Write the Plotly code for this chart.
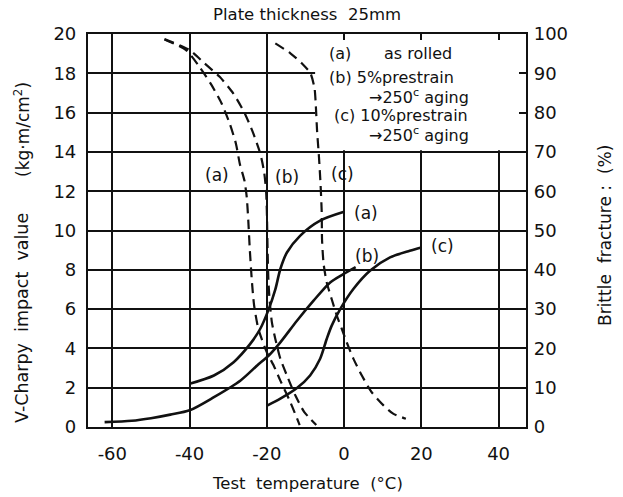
import plotly.graph_objects as go

# ---------------- data ----------------
# V-Charpy impact value (kg·m/cm²), left axis
temp_imp_a = [-40, -33.7, -28.6, -24.3, -21.7, -19.5, -17.8, -16.5, -14.8, -11.4, -6.2, 0]
imp_a = [2.2, 2.62, 3.3, 4.23, 5.0, 6.0, 7.0, 8.04, 8.88, 9.73, 10.5, 10.95]

temp_imp_b = [-62, -55, -50, -45, -40, -33.7, -26.8, -22.5, -19.5, -16.5, -12.2, -7.9, -3.6, -0.2, 3.0]
imp_b = [0.25, 0.32, 0.45, 0.63, 0.85, 1.52, 2.37, 3.13, 3.64, 4.31, 5.41, 6.43, 7.36, 7.78, 8.14]

temp_imp_c = [-19.8, -16.5, -12.2, -8.8, -6.2, -4.5, -3.2, -1.0, 2.4, 6.7, 11.9, 17.0, 20.0]
imp_c = [1.1, 1.44, 1.98, 2.62, 3.47, 4.48, 5.16, 6.0, 7.02, 7.95, 8.63, 8.97, 9.14]

# Brittle fracture (%), right axis
temp_br_a = [-46.5, -40.9, -37.4, -34.3, -31.7, -29.6, -28.0, -27.0, -25.8, -25.2,
             -24.8, -24.4, -23.9, -23.3, -22.2, -20.0, -18.2, -16.5, -13.9, -11.5]
br_a = [98.6, 95.9, 91.6, 87.0, 82.3, 77.2, 72.1, 67.0, 62.7, 58.5,
        52.5, 45.0, 37.5, 31.0, 25.0, 19.0, 15.6, 11.8, 6.3, 0.5]

temp_br_b = [-46.5, -40.0, -36.1, -32.2, -28.7, -25.7, -23.5, -21.7, -20.7, -20.2, -20.0,
             -19.8, -19.6, -19.3, -18.7, -17.8, -16.5, -14.8, -12.6, -10.3, -7.2]
br_b = [98.7, 95.9, 92.5, 89.1, 84.9, 79.8, 74.7, 69.6, 64.9, 60.2, 55.1,
        45.0, 37.5, 32.5, 26.7, 22.4, 17.4, 13.1, 8.0, 3.8, 0.5]

temp_br_c = [-17.8, -13.9, -10.9, -8.7, -7.65, -7.3, -7.0, -6.5, -6.1, -5.8, -5.7, -5.3,
             -4.5, -3.2, -1.9, -0.6, 0.7, 2.4, 4.6, 7.1, 10.2, 12.7, 16.0]
br_c = [97.6, 95.1, 92.5, 90.0, 86.2, 81.5, 75.5, 68.7, 61.9, 55.0, 47.5, 41.5,
        36.8, 32.5, 28.4, 25.0, 21.5, 17.4, 13.1, 8.9, 5.5, 3.4, 2.1]

x_ticks = [-60, -40, -20, 0, 20, 40]
y_ticks = [0, 2, 4, 6, 8, 10, 12, 14, 16, 18, 20]
y2_ticks = [0, 10, 20, 30, 40, 50, 60, 70, 80, 90, 100]

legend_lines = ["(a)", "as rolled", "(b) 5%prestrain", "→250<sup>c</sup> aging",
                "(c) 10%prestrain", "→250<sup>c</sup> aging"]

FONT = "DejaVu Sans"
INK = "#111111"

fig = go.Figure()

solid = dict(color=INK, width=2.6)
dashed = dict(color=INK, width=2.2, dash="10px,6px")

for xs, ys in [(temp_imp_a, imp_a), (temp_imp_b, imp_b), (temp_imp_c, imp_c)]:
    fig.add_trace(go.Scatter(x=xs, y=ys, mode="lines", line=dict(**solid, shape="spline", smoothing=0.8),
                             showlegend=False, hoverinfo="skip"))
for xs, ys in [(temp_br_a, br_a), (temp_br_b, br_b), (temp_br_c, br_c)]:
    fig.add_trace(go.Scatter(x=xs, y=ys, yaxis="y2", mode="lines",
                             line=dict(**dashed, shape="spline", smoothing=0.6),
                             showlegend=False, hoverinfo="skip"))

# white block where the legend text sits (grid interrupted)
fig.add_shape(type="rect", xref="x", yref="y", x0=-7.5, x1=47.1, y0=14.08, y1=20,
              fillcolor="white", line=dict(width=0), layer="between")

ann = []
def txt(x, y, s, size=17, xanchor="center"):
    ann.append(dict(x=x, y=y, xref="x", yref="y", text=s, showarrow=False,
                    xanchor=xanchor, yanchor="middle", font=dict(family=FONT, size=size, color=INK)))

# curve labels
txt(-32.8, 12.85, "(a)")
txt(-14.8, 12.7, "(b)")
txt(-0.5, 12.9, "(c)")
txt(5.6, 10.9, "(a)")
txt(5.9, 8.7, "(b)")
txt(25.5, 9.2, "(c)")

# legend block
txt(-4.4, 19.02, legend_lines[0], size=16, xanchor="left")
txt(9.8, 19.02, legend_lines[1], size=16, xanchor="left")
txt(-4.5, 17.77, legend_lines[2], size=16, xanchor="left")
txt(5.9, 16.80, legend_lines[3], size=16, xanchor="left")
txt(-3.2, 15.85, legend_lines[4], size=16, xanchor="left")
txt(5.9, 14.89, legend_lines[5], size=16, xanchor="left")

# titles
ann.append(dict(x=0.5, y=1, xref="paper", yref="paper", yanchor="bottom", yshift=8,
                text="Plate thickness  25mm", showarrow=False, font=dict(family=FONT, size=16.5, color=INK)))
ann.append(dict(x=0.5, y=0, xref="paper", yref="paper", yanchor="middle", yshift=-56,
                text="Test  temperature  (°C)", showarrow=False, font=dict(family=FONT, size=16.5, color=INK)))
ann.append(dict(x=0, y=(427 - 318) / 393, xref="paper", yref="paper", xanchor="center",
                yanchor="middle", xshift=-66, textangle=-90, text="V-Charpy  impact  value",
                showarrow=False, font=dict(family=FONT, size=17.5, color=INK)))
ann.append(dict(x=0, y=(427 - 130) / 393, xref="paper", yref="paper", xanchor="center",
                yanchor="middle", xshift=-66, textangle=-90, text="(kg·m/cm<sup>2</sup>)",
                showarrow=False, font=dict(family=FONT, size=17, color=INK)))
ann.append(dict(x=1, y=(427 - 236) / 393, xref="paper", yref="paper", xanchor="center",
                yanchor="middle", xshift=79, textangle=-90, text="Brittle  fracture :  (%)",
                showarrow=False, font=dict(family=FONT, size=17, color=INK)))

fig.update_layout(
    width=623, height=497,
    margin=dict(l=88, r=97, t=34, b=70),
    paper_bgcolor="white", plot_bgcolor="white",
    showlegend=False,
    annotations=ann,
    xaxis=dict(range=[-66.3, 47.1], tickvals=x_ticks, ticktext=[str(v) for v in x_ticks],
               showgrid=True, gridcolor=INK, gridwidth=1.8, zeroline=False,
               showline=True, linecolor=INK, linewidth=2.2, mirror="ticks",
               ticks="inside", ticklen=6, tickwidth=1.8, tickcolor=INK,
               ticklabelstandoff=9,
               tickfont=dict(family=FONT, size=18, color=INK)),
    yaxis=dict(range=[0, 20], tickvals=y_ticks, showgrid=True, gridcolor=INK, gridwidth=1.8,
               zeroline=False, showline=True, linecolor=INK, linewidth=2.2,
               ticks="inside", ticklen=6, tickwidth=1.8, tickcolor=INK,
               ticklabelstandoff=6,
               tickfont=dict(family=FONT, size=18, color=INK)),
    yaxis2=dict(range=[0, 100], tickvals=y2_ticks, overlaying="y", side="right",
                showgrid=False, zeroline=False, showline=True, linecolor=INK, linewidth=2.2,
                ticks="inside", ticklen=7, tickwidth=1.8, tickcolor=INK,
                ticklabelstandoff=2,
                tickfont=dict(family=FONT, size=18, color=INK)),
)

fig.write_html("out.html")
